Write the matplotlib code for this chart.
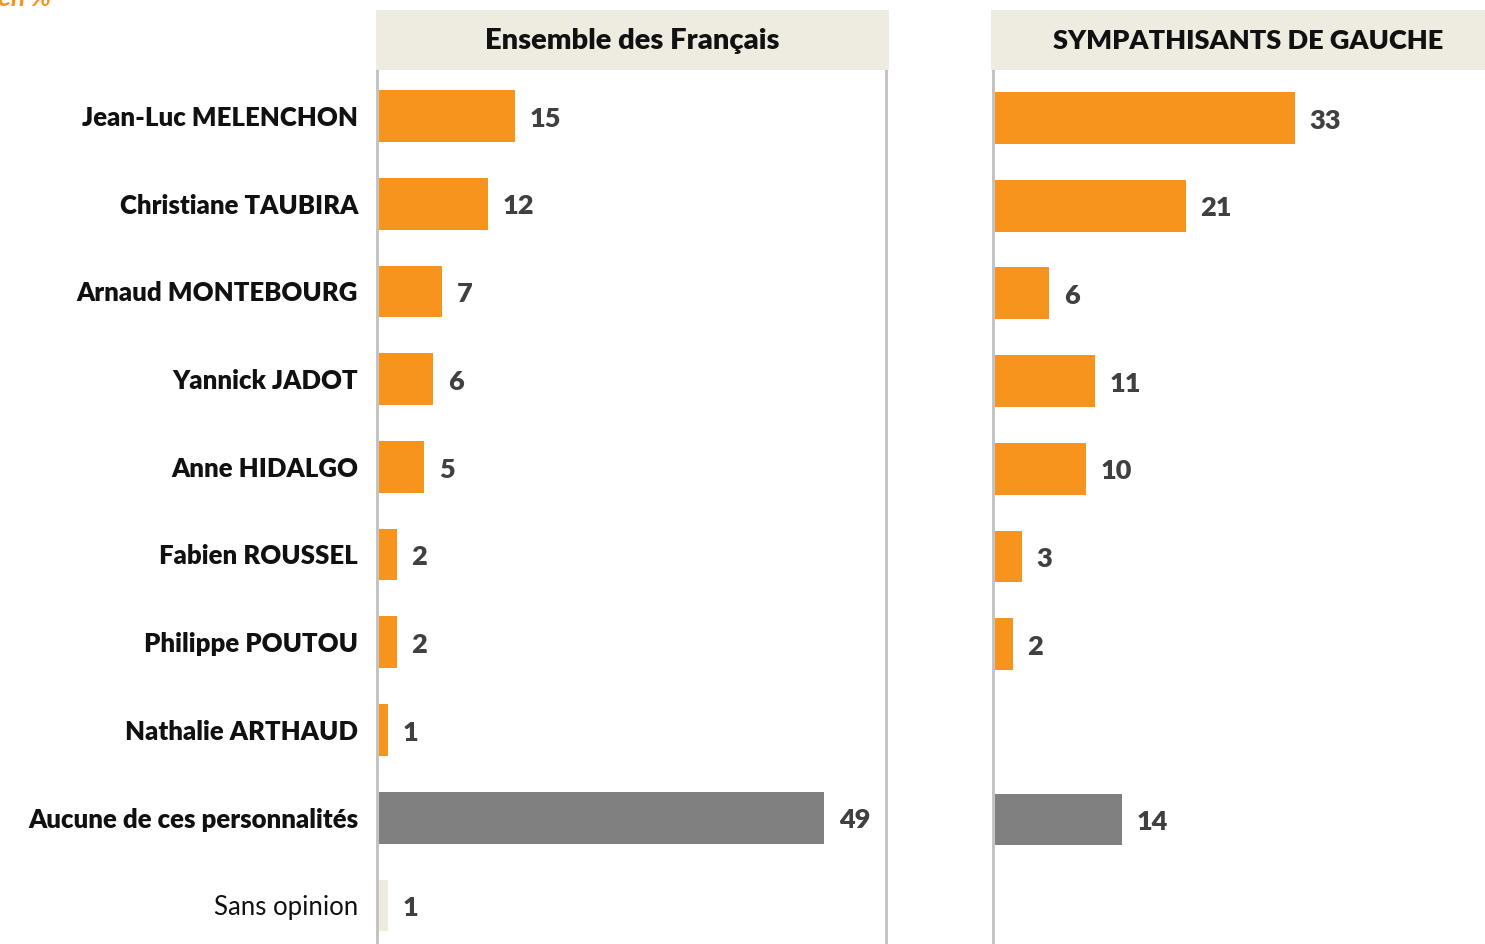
import numpy as np
import matplotlib.pyplot as plt
from matplotlib.patches import Rectangle

plt.rcParams["font.family"] = ["Lato", "DejaVu Sans"]

# ---- DATA ----
candidates = [
    "Jean-Luc MELENCHON",
    "Christiane TAUBIRA",
    "Arnaud MONTEBOURG",
    "Yannick JADOT",
    "Anne HIDALGO",
    "Fabien ROUSSEL",
    "Philippe POUTOU",
    "Nathalie ARTHAUD",
    "Aucune de ces personnalités",
    "Sans opinion",
]
ensemble = [15, 12, 7, 6, 5, 2, 2, 1, 49, 1]
gauche = [33, 21, 6, 11, 10, 3, 2, None, 14, None]
titles = ["Ensemble des Français", "SYMPATHISANTS DE GAUCHE"]

ORANGE = "#F7941D"
GREY = "#808080"
BEIGE = "#EEEBE0"
LINE = "#C0C0C0"
VALCOL = "#404040"

colors = [ORANGE] * 8 + [GREY, BEIGE]

W, H = 1485, 944
fig = plt.figure(figsize=(W / 100, H / 100), dpi=100)


def fx(px):
    return px / W


def fy(py):
    return 1 - py / H


panels = [
    (377, 509, ensemble, (9.44, -0.525)),
    (993, 509, gauche, (9.42, -0.547)),
]
headers = [(376, 513, 632, 21), (991, 520, 1248, 19.5)]

for (x0, w, vals, ylim), (hx, hw, tx, tsize), title in zip(panels, headers, titles):
    ax = fig.add_axes([fx(x0), 0, fx(w), fy(70)])
    for i, v in enumerate(vals):
        if v is None:
            continue
        ax.barh(i, v, height=0.59, left=0.2, color=colors[i], linewidth=0)
        ax.text(v + 0.2 + 1.6, i + 0.03, str(v), va="center", ha="left",
                fontsize=19.5, fontweight="heavy", color=VALCOL)
    ax.set_xlim(0, 56)
    ax.set_ylim(*ylim)
    ax.set_xticks([])
    ax.set_yticks([])
    for s in ["top", "bottom"]:
        ax.spines[s].set_visible(False)
    for s in ["left", "right"]:
        ax.spines[s].set_color(LINE)
        ax.spines[s].set_linewidth(2)

    # header box
    fig.patches.append(Rectangle((fx(hx), fy(70)), fx(hw), fy(10) - fy(70),
                                 transform=fig.transFigure, facecolor=BEIGE,
                                 edgecolor="none", zorder=0))
    fig.text(fx(tx), fy(41), title, ha="center", va="center",
             fontsize=tsize, fontweight="heavy", color="#111111")

# category labels
for i, name in enumerate(candidates):
    cy = 118 + i * 87.7
    fig.text(fx(358), fy(cy), name, ha="right", va="center",
             fontsize=18.5, color="#111111",
             fontweight="normal" if name == "Sans opinion" else "heavy")

fig.text(fx(-2), fy(-2), "en %", ha="left", va="center", fontsize=19,
         fontweight="bold", fontstyle="italic", color=ORANGE)

fig.savefig("out.png", dpi=100)
